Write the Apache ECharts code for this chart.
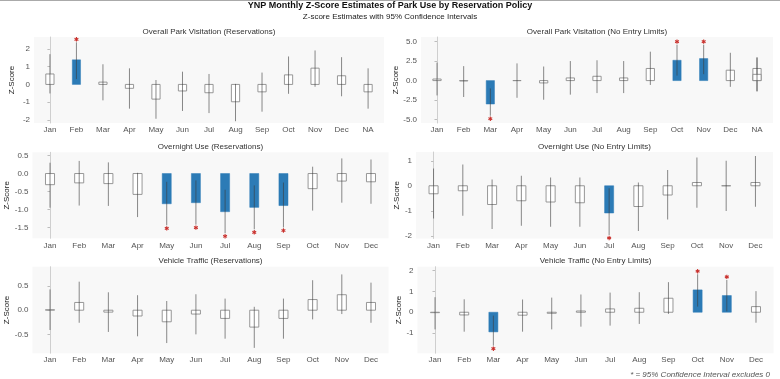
<!DOCTYPE html>
<html><head><meta charset="utf-8">
<script src="https://cdn.jsdelivr.net/npm/echarts@6/dist/echarts.min.js"></script>
<style>html,body{margin:0;padding:0;background:#fff}#c{width:780px;height:379px}</style>
</head><body><div id="c"></div>
<script>
// ---------- data ----------
const months12 = ['Jan','Feb','Mar','Apr','May','Jun','Jul','Aug','Sep','Oct','Nov','Dec'];
const months13 = ['Jan','Feb','Mar','Apr','May','Jun','Jul','Aug','Sep','Oct','Nov','Dec','NA'];

// Overall Park Visitation (Reservations)
const est1 = [0.59, 1.39, 0.13, -0.22, -0.83, -0.37, -0.47, -0.98, -0.42, 0.54, 0.92, 0.49, -0.42];
const lo1  = [-0.51, 0.30, -0.90, -1.37, -1.94, -1.50, -1.62, -2.08, -1.54, -0.53, -0.13, -0.67, -1.37];
const hi1  = [1.71, 2.38, 1.14, 0.91, 0.25, 0.72, 0.59, 0.03, 0.67, 1.58, 1.92, 1.54, 0.91];
const ticks1 = [-2, -1, 0, 1, 2];
const tickLabels1 = ['-2', '-1', '0', '1', '2'];

// Overall Park Visitation (No Entry Limits)
const est2 = [0.20, -0.05, -3.00, 0.00, -0.30, 0.34, 0.55, 0.34, 1.55, 2.60, 2.82, 1.33, 1.55];
const lo2  = [-1.90, -2.10, -4.50, -2.20, -2.45, -1.80, -1.60, -1.60, -0.56, 0.64, 0.82, -0.80, -1.40];
const hi2  = [2.30, 1.85, -1.00, 2.20, 1.80, 2.50, 2.60, 2.50, 3.70, 4.60, 4.60, 3.56, 2.96];
// second (overlapping) NA estimate in this panel
const naEst2b = 0.80, naLo2b = -1.35, naHi2b = 2.96;
const ticks2 = [-5, -2.5, 0, 2.5, 5];
const tickLabels2 = ['-5.0', '-2.5', '0.0', '2.5', '5.0'];

// Overnight Use (Reservations)
const est3 = [-0.31, -0.26, -0.28, -0.58, -0.84, -0.81, -1.06, -0.94, -0.89, -0.42, -0.21, -0.23];
const lo3  = [-0.95, -0.89, -0.90, -1.21, -1.44, -1.42, -1.66, -1.55, -1.50, -1.03, -0.81, -0.84];
const hi3  = [0.30, 0.35, 0.31, 0.02, -0.23, -0.19, -0.45, -0.33, -0.25, 0.19, 0.42, 0.39];
const ticks3 = [-1.5, -1, -0.5, 0, 0.5];
const tickLabels3 = ['-1.5', '-1.0', '-0.5', '0.0', '0.5'];

// Overnight Use (No Entry Limits)
const est4 = [-0.32, -0.20, -0.75, -0.60, -0.65, -0.68, -1.09, -0.83, -0.37, 0.13, 0.00, 0.13];
const lo4  = [-1.31, -1.20, -1.73, -1.60, -1.64, -1.64, -1.97, -1.81, -1.35, -0.88, -1.01, -0.84];
const hi4  = [0.69, 0.85, 0.25, 0.40, 0.33, 0.33, -0.10, 0.13, 0.63, 1.13, 1.00, 1.19];
const ticks4 = [-2, -1, 0, 1];
const tickLabels4 = ['-2', '-1', '0', '1'];

// Vehicle Traffic (Reservations)
const est5 = [0.01, 0.16, -0.04, -0.12, -0.24, -0.08, -0.17, -0.35, -0.17, 0.22, 0.32, 0.16];
const lo5  = [-0.41, -0.26, -0.45, -0.54, -0.68, -0.50, -0.59, -0.78, -0.59, -0.19, -0.08, -0.26];
const hi5  = [0.43, 0.59, 0.37, 0.31, 0.19, 0.33, 0.24, 0.07, 0.24, 0.62, 0.74, 0.57];
const ticks5 = [-0.5, 0, 0.5];
const tickLabels5 = ['-0.5', '0.0', '0.5'];

// Vehicle Traffic (No Entry Limits)
const est6 = [-0.02, -0.13, -0.94, -0.14, -0.05, 0.06, 0.16, 0.19, 0.67, 1.07, 0.80, 0.27];
const lo6  = [-0.82, -0.93, -1.60, -0.93, -0.82, -0.69, -0.64, -0.56, -0.08, 0.27, 0.04, -0.50];
const hi6  = [0.72, 0.62, -0.16, 0.61, 0.70, 0.85, 0.94, 0.96, 1.44, 1.82, 1.55, 1.01];
const ticks6 = [-1, 0, 1, 2];
const tickLabels6 = ['-1', '0', '1', '2'];

const panelTitles = [
  'Overall Park Visitation (Reservations)', 'Overall Park Visitation (No Entry Limits)',
  'Overnight Use (Reservations)', 'Overnight Use (No Entry Limits)',
  'Vehicle Traffic (Reservations)', 'Vehicle Traffic (No Entry Limits)'
];
const mainTitle = 'YNP Monthly Z-Score Estimates of Park Use by Reservation Policy';
const subTitle = 'Z-score Estimates with 95% Confidence Intervals';
const footNote = '* = 95% Confidence Interval excludes 0';
const yName = 'Z-Score';

// ---------- layout / style ----------
const FONT = '"Liberation Sans", Arial, Helvetica, sans-serif';
const panels = [
  {cats: months13, est: est1, lo: lo1, hi: hi1, ticks: ticks1, labels: tickLabels1,
   grid: {left: 34, top: 37, width: 350, height: 86}, ymin: -2.18, ymax: 2.68, nameGap: 18},
  {cats: months13, est: est2, lo: lo2, hi: hi2, ticks: ticks2, labels: tickLabels2,
   extra: [[12, naEst2b, naLo2b, naHi2b]],
   grid: {left: 421, top: 37, width: 352, height: 86}, ymin: -5.43, ymax: 5.58, nameGap: 19},
  {cats: months12, est: est3, lo: lo3, hi: hi3, ticks: ticks3, labels: tickLabels3,
   grid: {left: 32.5, top: 152.3, width: 356, height: 86}, ymin: -1.8, ymax: 0.59, nameGap: 18},
  {cats: months12, est: est4, lo: lo4, hi: hi4, ticks: ticks4, labels: tickLabels4,
   grid: {left: 416, top: 152, width: 357, height: 86.5}, ymin: -2.11, ymax: 1.35, nameGap: 11},
  {cats: months12, est: est5, lo: lo5, hi: hi5, ticks: ticks5, labels: tickLabels5,
   grid: {left: 32.5, top: 266.7, width: 356, height: 86.5}, ymin: -0.89, ymax: 0.9, nameGap: 18},
  {cats: months12, est: est6, lo: lo6, hi: hi6, ticks: ticks6, labels: tickLabels6,
   grid: {left: 417.5, top: 266.7, width: 356, height: 86.5}, ymin: -1.96, ymax: 2.18, nameGap: 11}
];

const BLUE = '#2c7bb6';
const STAR = '#c9302c';

function renderItem(params, api) {
  const x = api.value(0), est = api.value(1), lo = api.value(2), hi = api.value(3);
  const p0 = api.coord([x, 0]);
  const pe = api.coord([x, est]);
  const pl = api.coord([x, lo]);
  const ph = api.coord([x, hi]);
  const bw = api.size([1, 0])[0] * 0.31;
  const sig = lo > 0 || hi < 0;
  const top = Math.min(p0[1], pe[1]);
  const h = Math.max(Math.abs(p0[1] - pe[1]), 0.01);
  const children = [];
  children.push({
    type: 'rect',
    shape: {x: p0[0] - bw / 2, y: top, width: bw, height: h},
    style: sig ? {fill: BLUE, stroke: BLUE, lineWidth: 0.5}
               : {fill: 'rgba(255,255,255,0.9)', stroke: '#8c8c8c', lineWidth: 0.9}
  });
  children.push({
    type: 'line',
    shape: {x1: p0[0], y1: ph[1], x2: p0[0], y2: pl[1]},
    style: {stroke: 'rgba(60,60,60,0.6)', lineWidth: 1}
  });
  if (sig) {
    const cy = hi < 0 ? pl[1] + 3 : ph[1] - 3;
    const r = 2.2;
    for (let k = 0; k < 3; k++) {
      const a = Math.PI / 2 + k * Math.PI / 3;
      children.push({
        type: 'line',
        shape: {x1: p0[0] - r * Math.cos(a), y1: cy - r * Math.sin(a),
                x2: p0[0] + r * Math.cos(a), y2: cy + r * Math.sin(a)},
        style: {stroke: STAR, lineWidth: 1.1}
      });
    }
  }
  return {type: 'group', children};
}

const option = {
  backgroundColor: '#ffffff',
  animation: false,
  textStyle: {fontFamily: FONT},
  title: [
    {text: mainTitle, left: 390, top: 1.5, textAlign: 'center', padding: 0,
     textStyle: {fontSize: 9, fontWeight: 'bold', color: '#111', fontFamily: FONT, lineHeight: 9}},
    {text: subTitle, left: 390, top: 12.5, textAlign: 'center', padding: 0,
     textStyle: {fontSize: 8, fontWeight: 'normal', color: '#222', fontFamily: FONT, lineHeight: 8}},
    {text: footNote, left: 770, top: 371, textAlign: 'right', padding: 0,
     textStyle: {fontSize: 8, fontWeight: 'normal', fontStyle: 'italic', color: '#555', fontFamily: FONT, lineHeight: 8}}
  ],
  graphic: [{type: 'line', shape: {x1: 0, y1: 0.5, x2: 780, y2: 0.5}, style: {stroke: '#aaaaaa', lineWidth: 1}}],
  grid: [], xAxis: [], yAxis: [], series: []
};

panels.forEach((p, i) => {
  const g = p.grid;
  option.title.push({
    text: panelTitles[i], left: g.left + g.width / 2, top: g.top - 9.5, textAlign: 'center', padding: 0,
    textStyle: {fontSize: 8, fontWeight: 'normal', color: '#333', fontFamily: FONT, lineHeight: 8}
  });
  option.grid.push({left: g.left, top: g.top, width: g.width, height: g.height,
    show: true, backgroundColor: '#f8f8f8', borderWidth: 0, containLabel: false});
  const idx = p.cats.map((c, k) => k);
  option.xAxis.push({
    type: 'value', gridIndex: i, min: -0.6, max: p.cats.length - 0.4,
    axisLine: {show: false}, axisTick: {show: false}, splitLine: {show: false},
    axisLabel: {customValues: idx, formatter: v => p.cats[Math.round(v)], margin: 3,
      fontSize: 8, color: '#555', fontFamily: FONT}
  });
  option.yAxis.push({
    type: 'value', gridIndex: i, min: p.ymin, max: p.ymax,
    name: yName, nameLocation: 'middle', nameRotate: 90, nameGap: p.nameGap,
    nameTextStyle: {fontSize: 8, color: '#222', fontFamily: FONT},
    axisLine: {show: true, lineStyle: {color: '#cfcfcf', width: 1}},
    axisTick: {show: true, customValues: p.ticks, length: 2.5, lineStyle: {color: '#bdbdbd'}},
    splitLine: {show: false},
    axisLabel: {customValues: p.ticks, margin: 4, fontSize: 8, color: '#555', fontFamily: FONT,
      formatter: v => { const k = p.ticks.findIndex(t => Math.abs(t - v) < 1e-6); return k >= 0 ? p.labels[k] : ''; }}
  });
  const data = p.cats.map((c, k) => [k, p.est[k], p.lo[k], p.hi[k]]);
  if (p.extra) p.extra.forEach(r => data.push(r));
  option.series.push({
    type: 'custom', xAxisIndex: i, yAxisIndex: i, renderItem,
    clip: false,
    data
  });
});

const chart = echarts.init(document.getElementById('c'), null, {renderer: 'canvas'});
chart.setOption(option);
</script>
</body></html>
